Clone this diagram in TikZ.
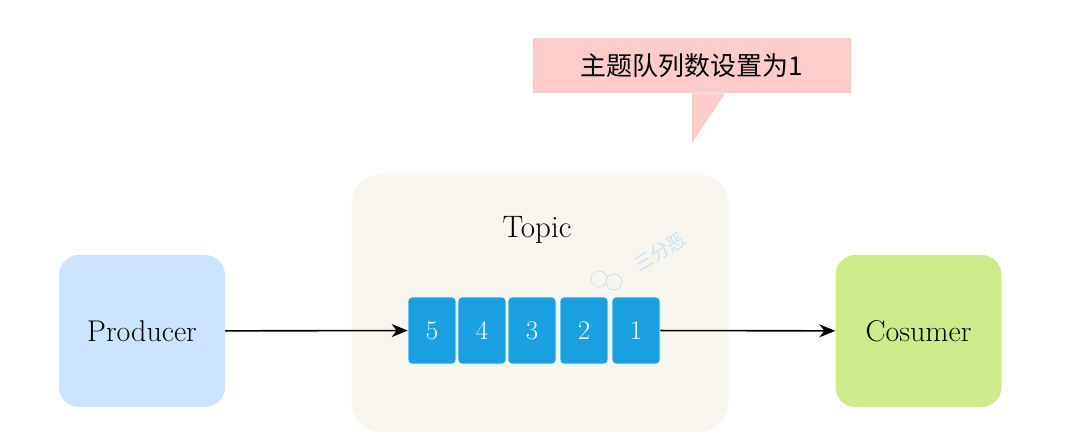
\documentclass[tikz,border=0pt]{standalone}
\usepackage{fontspec}
\newfontfamily\cjkfont{Noto Sans CJK SC}
\usetikzlibrary{positioning}
\usetikzlibrary{arrows.meta}

\definecolor{prodblue}{HTML}{CCE4FF}
\definecolor{consgreen}{HTML}{CDEB8B}
\definecolor{topicbg}{HTML}{F8F6EE}
\definecolor{cellblue}{HTML}{1BA1E2}
\definecolor{calloutpink}{HTML}{FFCCCC}
\definecolor{wmblue}{HTML}{C9E2F5}

\tikzset{
  endbox/.style={rounded corners=20pt, minimum width=166pt, minimum height=152pt, font=\fontsize{30}{34}\selectfont},
  cell/.style={fill=cellblue, draw=white, line width=0.6pt, rounded corners=4pt, minimum width=48pt, minimum height=67pt, text=white, font=\fontsize{27}{30}\selectfont},
  flow/.style={-{Stealth[length=16pt,width=13pt,inset=5pt]}, line width=1.6pt}
}

\begin{document}
\begin{tikzpicture}[x=1pt,y=-1pt]
			\useasboundingbox (0,0) rectangle (1080,434);
			\tikzstyle{every node}+=[inner sep=0pt]
			% topic container
			\node [fill=topicbg, rounded corners=30pt, minimum width=377pt, minimum height=258pt] (topic) at (540,303) {};
			\node [font=\fontsize{31}{34}\selectfont] (topiclabel) at (537,230) {Topic};
			% watermark
			\node [rotate=31, text=wmblue, font=\cjkfont\fontsize{19}{22}\selectfont] (mark) at (660,252) {三分恶};
			\draw [wmblue, line width=0.8pt] (599,279) circle (8);
			\draw [wmblue, line width=0.8pt, fill=topicbg] (614,282) circle (8);
			% producer and consumer
			\node [endbox, fill=prodblue] (producer) at (142,331) {Producer};
			\node [endbox, fill=consgreen] (consumer) at (918.5,331) {Cosumer};
			% queue
			\foreach \n/\x in {5/432,4/482,3/532,2/584,1/636}
				\node [cell] (m\n) at (\x,330.5) {\n};
			\draw [flow] (producer) -- (m5);
			\draw [flow] (m1) -- (consumer);
			% callout
			\node [fill=calloutpink, minimum width=318pt, minimum height=55pt, font=\cjkfont\fontsize{26}{30}\selectfont] (callout) at (692,65.5) {主题队列数设置为1};
			\coordinate (tip) at (692,143);
			\fill [calloutpink] ([yshift=-0.5pt]callout.south) -- (tip) -- ([xshift=33pt,yshift=-0.5pt]callout.south) -- cycle;
\end{tikzpicture}
\end{document}
